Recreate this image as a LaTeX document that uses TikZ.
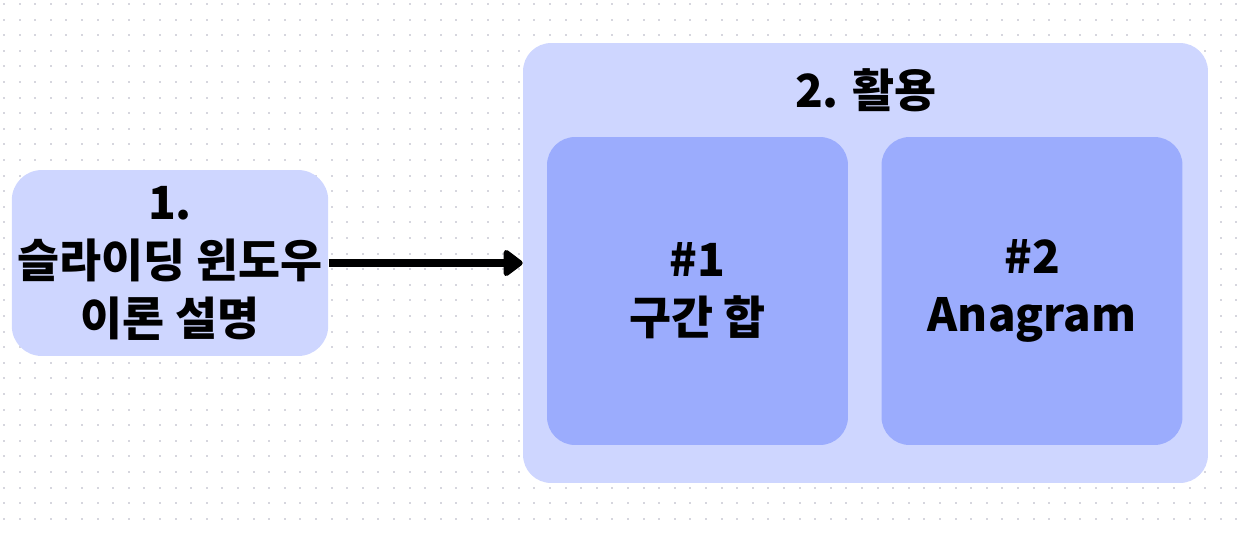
\documentclass[tikz,border=0pt]{standalone}
\usepackage{fontspec}
\setmainfont{Noto Sans CJK KR}[BoldFont={Noto Sans CJK KR Black}]
\usepackage{xcolor}
\usepackage{tikz}
\usetikzlibrary{positioning}
\usetikzlibrary{arrows.meta}
\definecolor{boxlight}{HTML}{CED6FF}
\definecolor{boxdark}{HTML}{9BACFD}
\definecolor{dotgray}{HTML}{D6D6DE}
\tikzset{
  topic/.style={fill=boxlight,rounded corners=0.6cm,align=center,
    font=\fontsize{26}{33}\selectfont\bfseries},
  case/.style={fill=boxdark,rounded corners=0.56cm,align=center,
    minimum width=6.02cm,minimum height=6.16cm,
    font=\fontsize{26}{33}\selectfont\bfseries}
}

\begin{document}
\begin{tikzpicture}[x=0.02cm,y=-0.02cm]
  \useasboundingbox (0,0) rectangle (1241,532);
  % dot grid
  \foreach \i in {0,...,79}
    \foreach \j in {0,...,34}
      \fill[dotgray] (4+15.6*\i-1,4+15.6*\j-1) rectangle ++(2,2);
  % step 1: theory
  \node[topic,minimum width=6.32cm,minimum height=3.72cm] (theory) at (170,263)
    {1.\\슬라이딩 윈도우\\이론 설명};
  % step 2: applications
  \node[topic,minimum width=13.7cm,minimum height=8.8cm,rounded corners=0.56cm] (use) at (865.5,263) {};
  \node[font=\fontsize{26}{33}\selectfont\bfseries] (usetitle) at (866,90) {2. 활용};
  \node[case] (sum) at (697.5,291) {\#1\\구간 합};
  \node[case] (anagram) at (1032,291) {\#2\\Anagram};
  % arrow
  \draw[-{Triangle[length=0.42cm,width=0.6cm,round]},line width=4pt] (theory.east) -- (use.west);
\end{tikzpicture}
\end{document}
